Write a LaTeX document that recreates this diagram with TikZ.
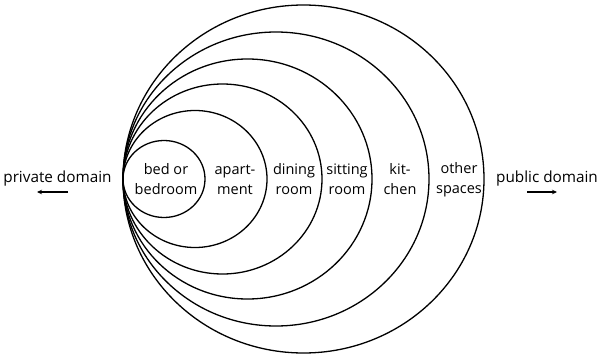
\documentclass[tikz,border=0pt]{standalone}
\usepackage{fontspec}
\setmainfont{Open Sans}
\usetikzlibrary{arrows.meta}
\begin{document}
\begin{tikzpicture}[x=1pt,y=-1pt,
  ring/.style={draw=black,line width=1.3pt},
  lab/.style={align=center,inner sep=0pt,font=\fontsize{14.5}{20}\selectfont},
  side/.style={align=center,inner sep=0pt,font=\fontsize{15.3}{20}\selectfont},
  dir/.style={line width=1.5pt,-{Stealth[length=5pt,width=4.5pt]}}]
\useasboundingbox (0,0) rectangle (600,356);
\draw[ring] (123+41,179) ellipse [x radius=41pt, y radius=38.5pt];
\draw[ring] (123+72,179) ellipse [x radius=72pt, y radius=68.5pt];
\draw[ring] (123+99.5,179) ellipse [x radius=99.5pt, y radius=95pt];
\draw[ring] (123+124.5,179) ellipse [x radius=124.5pt, y radius=120pt];
\draw[ring] (123+153,179) ellipse [x radius=153pt, y radius=147pt];
\draw[ring] (123+180.5,179) ellipse [x radius=180.5pt, y radius=174pt];
\node[lab] (bed) at (166,179.5) {bed or\\bedroom};
\node[lab] (apt) at (235,179.5) {apart-\\ment};
\node[lab] (din) at (294,179.5) {dining\\room};
\node[lab] (sit) at (347,179.5) {sitting\\room};
\node[lab] (kit) at (400,179.5) {kit-\\chen};
\node[lab] (oth) at (459,179.5) {other\\spaces};
\node[lab,side] (priv) at (57.5,179) {private domain};
\node[lab,side] (pub) at (547,179) {public domain};
\coordinate (pa) at (68,192);
\coordinate (pb) at (37,192);
\coordinate (qa) at (527,192);
\coordinate (qb) at (557,192);
\draw[dir] (pa) -- (pb);
\draw[dir] (qa) -- (qb);
\end{tikzpicture}
\end{document}
